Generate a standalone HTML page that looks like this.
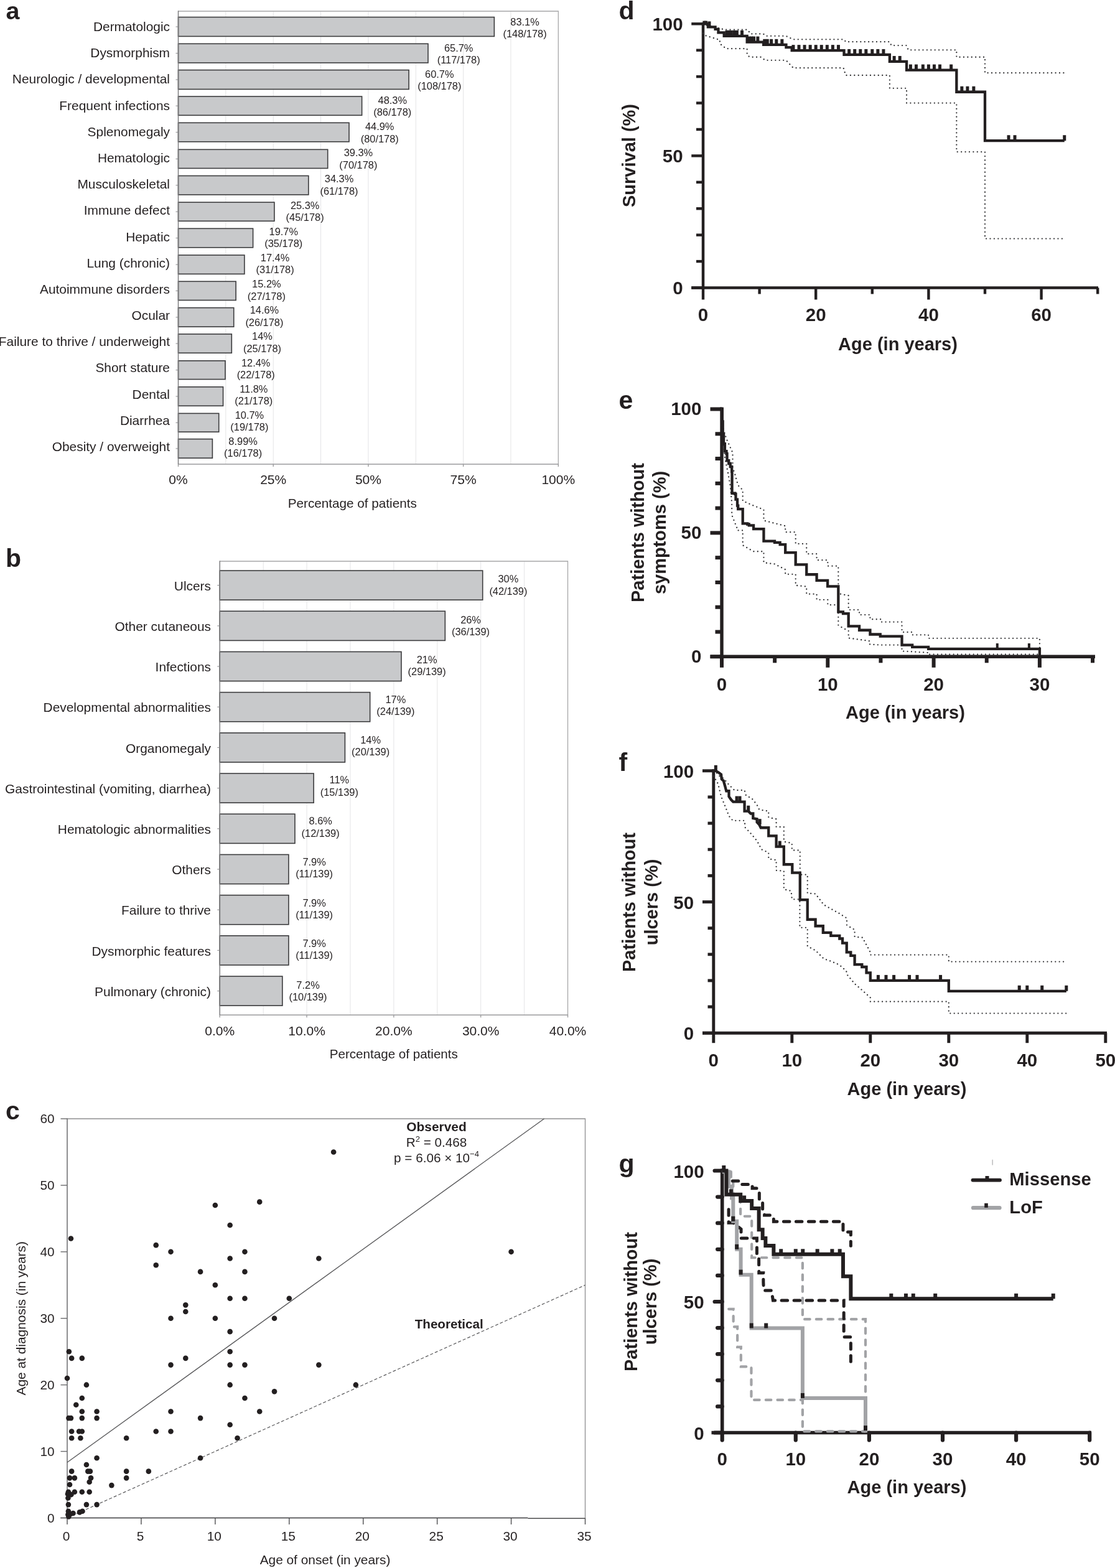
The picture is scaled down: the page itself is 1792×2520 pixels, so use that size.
<!DOCTYPE html>
<html><head><meta charset="utf-8"><title>Figure</title>
<style>html,body{margin:0;padding:0;background:#fff;}svg{display:block;}</style></head><body>
<svg width="1792" height="2520" viewBox="0 0 1792 2520" font-family="'Liberation Sans', Arial, Helvetica, sans-serif">
<rect width="1792" height="2520" fill="#fff"/>
<line x1="362.85" y1="18" x2="362.85" y2="746" stroke="#e4e4e6" stroke-width="1"/>
<line x1="439.2" y1="18" x2="439.2" y2="746" stroke="#e4e4e6" stroke-width="1"/>
<line x1="515.55" y1="18" x2="515.55" y2="746" stroke="#e4e4e6" stroke-width="1"/>
<line x1="591.9" y1="18" x2="591.9" y2="746" stroke="#e4e4e6" stroke-width="1"/>
<line x1="668.25" y1="18" x2="668.25" y2="746" stroke="#e4e4e6" stroke-width="1"/>
<line x1="744.6" y1="18" x2="744.6" y2="746" stroke="#e4e4e6" stroke-width="1"/>
<line x1="820.95" y1="18" x2="820.95" y2="746" stroke="#e4e4e6" stroke-width="1"/>
<path d="M286.5 18H897.3V746" fill="none" stroke="#a6a6a8" stroke-width="1.3"/>
<line x1="285.9" y1="746" x2="897.9" y2="746" stroke="#9a9a9c" stroke-width="1.6"/>
<line x1="286.5" y1="746" x2="286.5" y2="750" stroke="#9a9a9c" stroke-width="1.4"/>
<line x1="439.2" y1="746" x2="439.2" y2="750" stroke="#9a9a9c" stroke-width="1.4"/>
<line x1="591.9" y1="746" x2="591.9" y2="750" stroke="#9a9a9c" stroke-width="1.4"/>
<line x1="744.6" y1="746" x2="744.6" y2="750" stroke="#9a9a9c" stroke-width="1.4"/>
<line x1="897.3" y1="746" x2="897.3" y2="750" stroke="#9a9a9c" stroke-width="1.4"/>
<rect x="286.5" y="27.55" width="507.86" height="30.9" fill="#c8c9cb" stroke="#3c3c3e" stroke-width="1.6"/>
<line x1="282.5" y1="43" x2="286.5" y2="43" stroke="#9a9a9c" stroke-width="1.2"/>
<text x="273" y="50" font-size="20.9" text-anchor="end" fill="#231f20">Dermatologic</text>
<text x="843.56" y="40.5" font-size="16.4" text-anchor="middle" fill="#231f20">83.1%</text>
<text x="843.56" y="59.9" font-size="16.4" text-anchor="middle" fill="#231f20">(148/178)</text>
<rect x="286.5" y="70.3" width="401.48" height="30.65" fill="#c8c9cb" stroke="#3c3c3e" stroke-width="1.6"/>
<line x1="282.5" y1="85.62" x2="286.5" y2="85.62" stroke="#9a9a9c" stroke-width="1.2"/>
<text x="273" y="92.19" font-size="20.9" text-anchor="end" fill="#231f20">Dysmorphism</text>
<text x="737.18" y="82.66" font-size="16.4" text-anchor="middle" fill="#231f20">65.7%</text>
<text x="737.18" y="102.06" font-size="16.4" text-anchor="middle" fill="#231f20">(117/178)</text>
<rect x="286.5" y="112.55" width="370.6" height="30.9" fill="#c8c9cb" stroke="#3c3c3e" stroke-width="1.6"/>
<line x1="282.5" y1="128" x2="286.5" y2="128" stroke="#9a9a9c" stroke-width="1.2"/>
<text x="273" y="134.38" font-size="20.9" text-anchor="end" fill="#231f20">Neurologic / developmental</text>
<text x="706.3" y="124.82" font-size="16.4" text-anchor="middle" fill="#231f20">60.7%</text>
<text x="706.3" y="144.22" font-size="16.4" text-anchor="middle" fill="#231f20">(108/178)</text>
<rect x="286.5" y="155" width="295.11" height="30.3" fill="#c8c9cb" stroke="#3c3c3e" stroke-width="1.6"/>
<line x1="282.5" y1="170.15" x2="286.5" y2="170.15" stroke="#9a9a9c" stroke-width="1.2"/>
<text x="273" y="176.57" font-size="20.9" text-anchor="end" fill="#231f20">Frequent infections</text>
<text x="630.81" y="166.98" font-size="16.4" text-anchor="middle" fill="#231f20">48.3%</text>
<text x="630.81" y="186.38" font-size="16.4" text-anchor="middle" fill="#231f20">(86/178)</text>
<rect x="286.5" y="197.3" width="274.52" height="30.5" fill="#c8c9cb" stroke="#3c3c3e" stroke-width="1.6"/>
<line x1="282.5" y1="212.55" x2="286.5" y2="212.55" stroke="#9a9a9c" stroke-width="1.2"/>
<text x="273" y="218.76" font-size="20.9" text-anchor="end" fill="#231f20">Splenomegaly</text>
<text x="610.22" y="209.14" font-size="16.4" text-anchor="middle" fill="#231f20">44.9%</text>
<text x="610.22" y="228.54" font-size="16.4" text-anchor="middle" fill="#231f20">(80/178)</text>
<rect x="286.5" y="240.3" width="240.2" height="30.2" fill="#c8c9cb" stroke="#3c3c3e" stroke-width="1.6"/>
<line x1="282.5" y1="255.4" x2="286.5" y2="255.4" stroke="#9a9a9c" stroke-width="1.2"/>
<text x="273" y="260.95" font-size="20.9" text-anchor="end" fill="#231f20">Hematologic</text>
<text x="575.9" y="251.3" font-size="16.4" text-anchor="middle" fill="#231f20">39.3%</text>
<text x="575.9" y="270.7" font-size="16.4" text-anchor="middle" fill="#231f20">(70/178)</text>
<rect x="286.5" y="282.5" width="209.32" height="30.5" fill="#c8c9cb" stroke="#3c3c3e" stroke-width="1.6"/>
<line x1="282.5" y1="297.75" x2="286.5" y2="297.75" stroke="#9a9a9c" stroke-width="1.2"/>
<text x="273" y="303.14" font-size="20.9" text-anchor="end" fill="#231f20">Musculoskeletal</text>
<text x="545.02" y="293.46" font-size="16.4" text-anchor="middle" fill="#231f20">34.3%</text>
<text x="545.02" y="312.86" font-size="16.4" text-anchor="middle" fill="#231f20">(61/178)</text>
<rect x="286.5" y="325.1" width="154.42" height="30.2" fill="#c8c9cb" stroke="#3c3c3e" stroke-width="1.6"/>
<line x1="282.5" y1="340.2" x2="286.5" y2="340.2" stroke="#9a9a9c" stroke-width="1.2"/>
<text x="273" y="345.33" font-size="20.9" text-anchor="end" fill="#231f20">Immune defect</text>
<text x="490.12" y="335.62" font-size="16.4" text-anchor="middle" fill="#231f20">25.3%</text>
<text x="490.12" y="355.02" font-size="16.4" text-anchor="middle" fill="#231f20">(45/178)</text>
<rect x="286.5" y="367.3" width="120.1" height="30.5" fill="#c8c9cb" stroke="#3c3c3e" stroke-width="1.6"/>
<line x1="282.5" y1="382.55" x2="286.5" y2="382.55" stroke="#9a9a9c" stroke-width="1.2"/>
<text x="273" y="387.52" font-size="20.9" text-anchor="end" fill="#231f20">Hepatic</text>
<text x="455.8" y="377.78" font-size="16.4" text-anchor="middle" fill="#231f20">19.7%</text>
<text x="455.8" y="397.18" font-size="16.4" text-anchor="middle" fill="#231f20">(35/178)</text>
<rect x="286.5" y="410" width="106.38" height="30.4" fill="#c8c9cb" stroke="#3c3c3e" stroke-width="1.6"/>
<line x1="282.5" y1="425.2" x2="286.5" y2="425.2" stroke="#9a9a9c" stroke-width="1.2"/>
<text x="273" y="429.71" font-size="20.9" text-anchor="end" fill="#231f20">Lung (chronic)</text>
<text x="442.08" y="419.94" font-size="16.4" text-anchor="middle" fill="#231f20">17.4%</text>
<text x="442.08" y="439.34" font-size="16.4" text-anchor="middle" fill="#231f20">(31/178)</text>
<rect x="286.5" y="452.3" width="92.65" height="30.2" fill="#c8c9cb" stroke="#3c3c3e" stroke-width="1.6"/>
<line x1="282.5" y1="467.4" x2="286.5" y2="467.4" stroke="#9a9a9c" stroke-width="1.2"/>
<text x="273" y="471.9" font-size="20.9" text-anchor="end" fill="#231f20">Autoimmune disorders</text>
<text x="428.35" y="462.1" font-size="16.4" text-anchor="middle" fill="#231f20">15.2%</text>
<text x="428.35" y="481.5" font-size="16.4" text-anchor="middle" fill="#231f20">(27/178)</text>
<rect x="286.5" y="494.6" width="89.22" height="30.6" fill="#c8c9cb" stroke="#3c3c3e" stroke-width="1.6"/>
<line x1="282.5" y1="509.9" x2="286.5" y2="509.9" stroke="#9a9a9c" stroke-width="1.2"/>
<text x="273" y="514.09" font-size="20.9" text-anchor="end" fill="#231f20">Ocular</text>
<text x="424.92" y="504.26" font-size="16.4" text-anchor="middle" fill="#231f20">14.6%</text>
<text x="424.92" y="523.66" font-size="16.4" text-anchor="middle" fill="#231f20">(26/178)</text>
<rect x="286.5" y="536.9" width="85.79" height="30.4" fill="#c8c9cb" stroke="#3c3c3e" stroke-width="1.6"/>
<line x1="282.5" y1="552.1" x2="286.5" y2="552.1" stroke="#9a9a9c" stroke-width="1.2"/>
<text x="273" y="556.28" font-size="20.9" text-anchor="end" fill="#231f20">Failure to thrive / underweight</text>
<text x="421.49" y="546.42" font-size="16.4" text-anchor="middle" fill="#231f20">14%</text>
<text x="421.49" y="565.82" font-size="16.4" text-anchor="middle" fill="#231f20">(25/178)</text>
<rect x="286.5" y="579.8" width="75.49" height="29.8" fill="#c8c9cb" stroke="#3c3c3e" stroke-width="1.6"/>
<line x1="282.5" y1="594.7" x2="286.5" y2="594.7" stroke="#9a9a9c" stroke-width="1.2"/>
<text x="273" y="598.47" font-size="20.9" text-anchor="end" fill="#231f20">Short stature</text>
<text x="411.19" y="588.58" font-size="16.4" text-anchor="middle" fill="#231f20">12.4%</text>
<text x="411.19" y="607.98" font-size="16.4" text-anchor="middle" fill="#231f20">(22/178)</text>
<rect x="286.5" y="621.8" width="72.06" height="30.5" fill="#c8c9cb" stroke="#3c3c3e" stroke-width="1.6"/>
<line x1="282.5" y1="637.05" x2="286.5" y2="637.05" stroke="#9a9a9c" stroke-width="1.2"/>
<text x="273" y="640.66" font-size="20.9" text-anchor="end" fill="#231f20">Dental</text>
<text x="407.76" y="630.74" font-size="16.4" text-anchor="middle" fill="#231f20">11.8%</text>
<text x="407.76" y="650.14" font-size="16.4" text-anchor="middle" fill="#231f20">(21/178)</text>
<rect x="286.5" y="664.4" width="65.2" height="29.8" fill="#c8c9cb" stroke="#3c3c3e" stroke-width="1.6"/>
<line x1="282.5" y1="679.3" x2="286.5" y2="679.3" stroke="#9a9a9c" stroke-width="1.2"/>
<text x="273" y="682.85" font-size="20.9" text-anchor="end" fill="#231f20">Diarrhea</text>
<text x="400.9" y="672.9" font-size="16.4" text-anchor="middle" fill="#231f20">10.7%</text>
<text x="400.9" y="692.3" font-size="16.4" text-anchor="middle" fill="#231f20">(19/178)</text>
<rect x="286.5" y="705.6" width="54.9" height="30.6" fill="#c8c9cb" stroke="#3c3c3e" stroke-width="1.6"/>
<line x1="282.5" y1="720.9" x2="286.5" y2="720.9" stroke="#9a9a9c" stroke-width="1.2"/>
<text x="273" y="725.04" font-size="20.9" text-anchor="end" fill="#231f20">Obesity / overweight</text>
<text x="390.6" y="715.06" font-size="16.4" text-anchor="middle" fill="#231f20">8.99%</text>
<text x="390.6" y="734.46" font-size="16.4" text-anchor="middle" fill="#231f20">(16/178)</text>
<line x1="286.5" y1="17.35" x2="286.5" y2="746" stroke="#78787a" stroke-width="1.4"/>
<text x="286.5" y="777.6" font-size="21" text-anchor="middle" fill="#231f20">0%</text>
<text x="439.2" y="777.6" font-size="21" text-anchor="middle" fill="#231f20">25%</text>
<text x="591.9" y="777.6" font-size="21" text-anchor="middle" fill="#231f20">50%</text>
<text x="744.6" y="777.6" font-size="21" text-anchor="middle" fill="#231f20">75%</text>
<text x="897.3" y="777.6" font-size="21" text-anchor="middle" fill="#231f20">100%</text>
<text x="566.3" y="815.6" font-size="20.7" text-anchor="middle" fill="#231f20">Percentage of patients</text>
<text x="9.5" y="30.5" font-size="39.5" text-anchor="start" font-weight="bold" fill="#231f20">a</text>
<line x1="423.16" y1="902" x2="423.16" y2="1631.25" stroke="#e4e4e6" stroke-width="1"/>
<line x1="493.06" y1="902" x2="493.06" y2="1631.25" stroke="#e4e4e6" stroke-width="1"/>
<line x1="562.97" y1="902" x2="562.97" y2="1631.25" stroke="#e4e4e6" stroke-width="1"/>
<line x1="632.88" y1="902" x2="632.88" y2="1631.25" stroke="#e4e4e6" stroke-width="1"/>
<line x1="702.78" y1="902" x2="702.78" y2="1631.25" stroke="#e4e4e6" stroke-width="1"/>
<line x1="772.69" y1="902" x2="772.69" y2="1631.25" stroke="#e4e4e6" stroke-width="1"/>
<line x1="842.59" y1="902" x2="842.59" y2="1631.25" stroke="#e4e4e6" stroke-width="1"/>
<path d="M353.25 902H912.5V1631.25" fill="none" stroke="#a6a6a8" stroke-width="1.3"/>
<line x1="352.65" y1="1631.25" x2="913.1" y2="1631.25" stroke="#9a9a9c" stroke-width="1.6"/>
<line x1="353.25" y1="1631.25" x2="353.25" y2="1635.25" stroke="#9a9a9c" stroke-width="1.4"/>
<line x1="493.06" y1="1631.25" x2="493.06" y2="1635.25" stroke="#9a9a9c" stroke-width="1.4"/>
<line x1="632.88" y1="1631.25" x2="632.88" y2="1635.25" stroke="#9a9a9c" stroke-width="1.4"/>
<line x1="772.69" y1="1631.25" x2="772.69" y2="1635.25" stroke="#9a9a9c" stroke-width="1.4"/>
<line x1="912.5" y1="1631.25" x2="912.5" y2="1635.25" stroke="#9a9a9c" stroke-width="1.4"/>
<rect x="353.25" y="917.05" width="422.46" height="47.15" fill="#c8c9cb" stroke="#3c3c3e" stroke-width="1.6"/>
<line x1="349.25" y1="940.62" x2="353.25" y2="940.62" stroke="#9a9a9c" stroke-width="1.2"/>
<text x="339" y="948.75" font-size="20.9" text-anchor="end" fill="#231f20">Ulcers</text>
<text x="816.91" y="936.25" font-size="16.4" text-anchor="middle" fill="#231f20">30%</text>
<text x="816.91" y="955.65" font-size="16.4" text-anchor="middle" fill="#231f20">(42/139)</text>
<rect x="353.25" y="982.25" width="362.1" height="47.15" fill="#c8c9cb" stroke="#3c3c3e" stroke-width="1.6"/>
<line x1="349.25" y1="1005.83" x2="353.25" y2="1005.83" stroke="#9a9a9c" stroke-width="1.2"/>
<text x="339" y="1013.95" font-size="20.9" text-anchor="end" fill="#231f20">Other cutaneous</text>
<text x="756.55" y="1001.75" font-size="16.4" text-anchor="middle" fill="#231f20">26%</text>
<text x="756.55" y="1021.15" font-size="16.4" text-anchor="middle" fill="#231f20">(36/139)</text>
<rect x="353.25" y="1047.45" width="291.7" height="47.15" fill="#c8c9cb" stroke="#3c3c3e" stroke-width="1.6"/>
<line x1="349.25" y1="1071.03" x2="353.25" y2="1071.03" stroke="#9a9a9c" stroke-width="1.2"/>
<text x="339" y="1079.15" font-size="20.9" text-anchor="end" fill="#231f20">Infections</text>
<text x="686.15" y="1065.5" font-size="16.4" text-anchor="middle" fill="#231f20">21%</text>
<text x="686.15" y="1084.9" font-size="16.4" text-anchor="middle" fill="#231f20">(29/139)</text>
<rect x="353.25" y="1112.65" width="241.4" height="47.15" fill="#c8c9cb" stroke="#3c3c3e" stroke-width="1.6"/>
<line x1="349.25" y1="1136.22" x2="353.25" y2="1136.22" stroke="#9a9a9c" stroke-width="1.2"/>
<text x="339" y="1144.35" font-size="20.9" text-anchor="end" fill="#231f20">Developmental abnormalities</text>
<text x="635.85" y="1129.6" font-size="16.4" text-anchor="middle" fill="#231f20">17%</text>
<text x="635.85" y="1149" font-size="16.4" text-anchor="middle" fill="#231f20">(24/139)</text>
<rect x="353.25" y="1177.85" width="201.17" height="47.15" fill="#c8c9cb" stroke="#3c3c3e" stroke-width="1.6"/>
<line x1="349.25" y1="1201.42" x2="353.25" y2="1201.42" stroke="#9a9a9c" stroke-width="1.2"/>
<text x="339" y="1209.55" font-size="20.9" text-anchor="end" fill="#231f20">Organomegaly</text>
<text x="595.62" y="1194.5" font-size="16.4" text-anchor="middle" fill="#231f20">14%</text>
<text x="595.62" y="1213.9" font-size="16.4" text-anchor="middle" fill="#231f20">(20/139)</text>
<rect x="353.25" y="1243.05" width="150.88" height="47.15" fill="#c8c9cb" stroke="#3c3c3e" stroke-width="1.6"/>
<line x1="349.25" y1="1266.62" x2="353.25" y2="1266.62" stroke="#9a9a9c" stroke-width="1.2"/>
<text x="339" y="1274.75" font-size="20.9" text-anchor="end" fill="#231f20">Gastrointestinal (vomiting, diarrhea)</text>
<text x="545.33" y="1259.4" font-size="16.4" text-anchor="middle" fill="#231f20">11%</text>
<text x="545.33" y="1278.8" font-size="16.4" text-anchor="middle" fill="#231f20">(15/139)</text>
<rect x="353.25" y="1308.25" width="120.7" height="47.15" fill="#c8c9cb" stroke="#3c3c3e" stroke-width="1.6"/>
<line x1="349.25" y1="1331.83" x2="353.25" y2="1331.83" stroke="#9a9a9c" stroke-width="1.2"/>
<text x="339" y="1339.95" font-size="20.9" text-anchor="end" fill="#231f20">Hematologic abnormalities</text>
<text x="515.15" y="1325.1" font-size="16.4" text-anchor="middle" fill="#231f20">8.6%</text>
<text x="515.15" y="1344.5" font-size="16.4" text-anchor="middle" fill="#231f20">(12/139)</text>
<rect x="353.25" y="1373.45" width="110.64" height="47.15" fill="#c8c9cb" stroke="#3c3c3e" stroke-width="1.6"/>
<line x1="349.25" y1="1397.03" x2="353.25" y2="1397.03" stroke="#9a9a9c" stroke-width="1.2"/>
<text x="339" y="1405.15" font-size="20.9" text-anchor="end" fill="#231f20">Others</text>
<text x="505.09" y="1390.7" font-size="16.4" text-anchor="middle" fill="#231f20">7.9%</text>
<text x="505.09" y="1410.1" font-size="16.4" text-anchor="middle" fill="#231f20">(11/139)</text>
<rect x="353.25" y="1438.65" width="110.64" height="47.15" fill="#c8c9cb" stroke="#3c3c3e" stroke-width="1.6"/>
<line x1="349.25" y1="1462.22" x2="353.25" y2="1462.22" stroke="#9a9a9c" stroke-width="1.2"/>
<text x="339" y="1470.35" font-size="20.9" text-anchor="end" fill="#231f20">Failure to thrive</text>
<text x="505.09" y="1456.6" font-size="16.4" text-anchor="middle" fill="#231f20">7.9%</text>
<text x="505.09" y="1476" font-size="16.4" text-anchor="middle" fill="#231f20">(11/139)</text>
<rect x="353.25" y="1503.85" width="110.64" height="47.15" fill="#c8c9cb" stroke="#3c3c3e" stroke-width="1.6"/>
<line x1="349.25" y1="1527.43" x2="353.25" y2="1527.43" stroke="#9a9a9c" stroke-width="1.2"/>
<text x="339" y="1535.55" font-size="20.9" text-anchor="end" fill="#231f20">Dysmorphic features</text>
<text x="505.09" y="1521.9" font-size="16.4" text-anchor="middle" fill="#231f20">7.9%</text>
<text x="505.09" y="1541.3" font-size="16.4" text-anchor="middle" fill="#231f20">(11/139)</text>
<rect x="353.25" y="1569.05" width="100.58" height="47.15" fill="#c8c9cb" stroke="#3c3c3e" stroke-width="1.6"/>
<line x1="349.25" y1="1592.62" x2="353.25" y2="1592.62" stroke="#9a9a9c" stroke-width="1.2"/>
<text x="339" y="1600.75" font-size="20.9" text-anchor="end" fill="#231f20">Pulmonary (chronic)</text>
<text x="495.03" y="1588.75" font-size="16.4" text-anchor="middle" fill="#231f20">7.2%</text>
<text x="495.03" y="1608.15" font-size="16.4" text-anchor="middle" fill="#231f20">(10/139)</text>
<line x1="353.25" y1="901.35" x2="353.25" y2="1631.25" stroke="#78787a" stroke-width="1.4"/>
<text x="353.25" y="1663.8" font-size="21" text-anchor="middle" fill="#231f20">0.0%</text>
<text x="493.06" y="1663.8" font-size="21" text-anchor="middle" fill="#231f20">10.0%</text>
<text x="632.88" y="1663.8" font-size="21" text-anchor="middle" fill="#231f20">20.0%</text>
<text x="772.69" y="1663.8" font-size="21" text-anchor="middle" fill="#231f20">30.0%</text>
<text x="912.5" y="1663.8" font-size="21" text-anchor="middle" fill="#231f20">40.0%</text>
<text x="632.8" y="1701.3" font-size="20.6" text-anchor="middle" fill="#231f20">Percentage of patients</text>
<text x="9" y="910.7" font-size="41" text-anchor="start" font-weight="bold" fill="#231f20">b</text>
<path d="M108 1798H940.5V2439.5" fill="none" stroke="#8e8e90" stroke-width="1.3"/>
<line x1="108" y1="1797.4" x2="108" y2="2439.5" stroke="#6a6a6c" stroke-width="1.5"/>
<line x1="97.3" y1="2439.5" x2="848.4" y2="2439.5" stroke="#3a3a3c" stroke-width="1.6"/>
<line x1="848.4" y1="2440.3" x2="940.5" y2="2440.3" stroke="#4a4a4c" stroke-width="1.6"/>
<line x1="97.5" y1="2439.5" x2="108" y2="2439.5" stroke="#6a6a6c" stroke-width="1.4"/>
<text x="87.6" y="2446.5" font-size="20.8" text-anchor="end" fill="#231f20">0</text>
<line x1="97.5" y1="2332.58" x2="108" y2="2332.58" stroke="#6a6a6c" stroke-width="1.4"/>
<text x="87.6" y="2339.58" font-size="20.8" text-anchor="end" fill="#231f20">10</text>
<line x1="97.5" y1="2225.67" x2="108" y2="2225.67" stroke="#6a6a6c" stroke-width="1.4"/>
<text x="87.6" y="2232.67" font-size="20.8" text-anchor="end" fill="#231f20">20</text>
<line x1="97.5" y1="2118.75" x2="108" y2="2118.75" stroke="#6a6a6c" stroke-width="1.4"/>
<text x="87.6" y="2125.75" font-size="20.8" text-anchor="end" fill="#231f20">30</text>
<line x1="97.5" y1="2011.83" x2="108" y2="2011.83" stroke="#6a6a6c" stroke-width="1.4"/>
<text x="87.6" y="2018.83" font-size="20.8" text-anchor="end" fill="#231f20">40</text>
<line x1="97.5" y1="1904.92" x2="108" y2="1904.92" stroke="#6a6a6c" stroke-width="1.4"/>
<text x="87.6" y="1911.92" font-size="20.8" text-anchor="end" fill="#231f20">50</text>
<line x1="97.5" y1="1798" x2="108" y2="1798" stroke="#6a6a6c" stroke-width="1.4"/>
<text x="87.6" y="1805" font-size="20.8" text-anchor="end" fill="#231f20">60</text>
<line x1="108" y1="2439.5" x2="108" y2="2450" stroke="#505052" stroke-width="1.4"/>
<text x="106.5" y="2475.6" font-size="20.8" text-anchor="middle" fill="#231f20">0</text>
<line x1="226.93" y1="2439.5" x2="226.93" y2="2450" stroke="#505052" stroke-width="1.4"/>
<text x="225.43" y="2475.6" font-size="20.8" text-anchor="middle" fill="#231f20">5</text>
<line x1="345.86" y1="2439.5" x2="345.86" y2="2450" stroke="#505052" stroke-width="1.4"/>
<text x="344.36" y="2475.6" font-size="20.8" text-anchor="middle" fill="#231f20">10</text>
<line x1="464.79" y1="2439.5" x2="464.79" y2="2450" stroke="#505052" stroke-width="1.4"/>
<text x="463.29" y="2475.6" font-size="20.8" text-anchor="middle" fill="#231f20">15</text>
<line x1="583.71" y1="2439.5" x2="583.71" y2="2450" stroke="#505052" stroke-width="1.4"/>
<text x="582.21" y="2475.6" font-size="20.8" text-anchor="middle" fill="#231f20">20</text>
<line x1="702.64" y1="2439.5" x2="702.64" y2="2450" stroke="#505052" stroke-width="1.4"/>
<text x="701.14" y="2475.6" font-size="20.8" text-anchor="middle" fill="#231f20">25</text>
<line x1="821.57" y1="2439.5" x2="821.57" y2="2450" stroke="#505052" stroke-width="1.4"/>
<text x="820.07" y="2475.6" font-size="20.8" text-anchor="middle" fill="#231f20">30</text>
<line x1="940.5" y1="2439.5" x2="940.5" y2="2450" stroke="#505052" stroke-width="1.4"/>
<text x="939" y="2475.6" font-size="20.8" text-anchor="middle" fill="#231f20">35</text>
<line x1="108" y1="2439.5" x2="940.5" y2="2065.29" stroke="#59595b" stroke-width="1.2" stroke-dasharray="5 3.2"/>
<line x1="108" y1="2350.3" x2="874.5" y2="1798" stroke="#555557" stroke-width="1.3"/>
<circle cx="536.14" cy="1851.46" r="4.3" fill="#231f20"/>
<circle cx="345.86" cy="1936.99" r="4.3" fill="#231f20"/>
<circle cx="417.21" cy="1931.65" r="4.3" fill="#231f20"/>
<circle cx="369.64" cy="1969.07" r="4.3" fill="#231f20"/>
<circle cx="113.95" cy="1990.45" r="4.3" fill="#231f20"/>
<circle cx="250.71" cy="2001.14" r="4.3" fill="#231f20"/>
<circle cx="274.5" cy="2011.83" r="4.3" fill="#231f20"/>
<circle cx="393.43" cy="2011.83" r="4.3" fill="#231f20"/>
<circle cx="821.57" cy="2011.83" r="4.3" fill="#231f20"/>
<circle cx="369.64" cy="2022.53" r="4.3" fill="#231f20"/>
<circle cx="512.36" cy="2022.53" r="4.3" fill="#231f20"/>
<circle cx="250.71" cy="2033.22" r="4.3" fill="#231f20"/>
<circle cx="322.07" cy="2043.91" r="4.3" fill="#231f20"/>
<circle cx="393.43" cy="2043.91" r="4.3" fill="#231f20"/>
<circle cx="345.86" cy="2065.29" r="4.3" fill="#231f20"/>
<circle cx="369.64" cy="2086.68" r="4.3" fill="#231f20"/>
<circle cx="393.43" cy="2086.68" r="4.3" fill="#231f20"/>
<circle cx="464.79" cy="2086.68" r="4.3" fill="#231f20"/>
<circle cx="298.29" cy="2097.37" r="4.3" fill="#231f20"/>
<circle cx="298.29" cy="2108.06" r="4.3" fill="#231f20"/>
<circle cx="274.5" cy="2118.75" r="4.3" fill="#231f20"/>
<circle cx="345.86" cy="2118.75" r="4.3" fill="#231f20"/>
<circle cx="441" cy="2118.75" r="4.3" fill="#231f20"/>
<circle cx="369.64" cy="2140.13" r="4.3" fill="#231f20"/>
<circle cx="110.85" cy="2172.21" r="4.3" fill="#231f20"/>
<circle cx="369.64" cy="2172.21" r="4.3" fill="#231f20"/>
<circle cx="115.14" cy="2182.9" r="4.3" fill="#231f20"/>
<circle cx="131.79" cy="2182.9" r="4.3" fill="#231f20"/>
<circle cx="298.29" cy="2182.9" r="4.3" fill="#231f20"/>
<circle cx="274.5" cy="2193.59" r="4.3" fill="#231f20"/>
<circle cx="369.64" cy="2193.59" r="4.3" fill="#231f20"/>
<circle cx="393.43" cy="2193.59" r="4.3" fill="#231f20"/>
<circle cx="512.36" cy="2193.59" r="4.3" fill="#231f20"/>
<circle cx="108" cy="2214.97" r="4.3" fill="#231f20"/>
<circle cx="138.92" cy="2225.67" r="4.3" fill="#231f20"/>
<circle cx="369.64" cy="2225.67" r="4.3" fill="#231f20"/>
<circle cx="571.82" cy="2225.67" r="4.3" fill="#231f20"/>
<circle cx="441" cy="2236.36" r="4.3" fill="#231f20"/>
<circle cx="131.79" cy="2247.05" r="4.3" fill="#231f20"/>
<circle cx="393.43" cy="2247.05" r="4.3" fill="#231f20"/>
<circle cx="122.27" cy="2257.74" r="4.3" fill="#231f20"/>
<circle cx="131.79" cy="2268.43" r="4.3" fill="#231f20"/>
<circle cx="155.57" cy="2268.43" r="4.3" fill="#231f20"/>
<circle cx="274.5" cy="2268.43" r="4.3" fill="#231f20"/>
<circle cx="417.21" cy="2268.43" r="4.3" fill="#231f20"/>
<circle cx="110.38" cy="2279.12" r="4.3" fill="#231f20"/>
<circle cx="113.95" cy="2279.12" r="4.3" fill="#231f20"/>
<circle cx="131.79" cy="2279.12" r="4.3" fill="#231f20"/>
<circle cx="155.57" cy="2279.12" r="4.3" fill="#231f20"/>
<circle cx="322.07" cy="2279.12" r="4.3" fill="#231f20"/>
<circle cx="369.64" cy="2289.82" r="4.3" fill="#231f20"/>
<circle cx="115.14" cy="2300.51" r="4.3" fill="#231f20"/>
<circle cx="127.03" cy="2300.51" r="4.3" fill="#231f20"/>
<circle cx="131.79" cy="2300.51" r="4.3" fill="#231f20"/>
<circle cx="250.71" cy="2300.51" r="4.3" fill="#231f20"/>
<circle cx="274.5" cy="2300.51" r="4.3" fill="#231f20"/>
<circle cx="115.14" cy="2311.2" r="4.3" fill="#231f20"/>
<circle cx="129.41" cy="2311.2" r="4.3" fill="#231f20"/>
<circle cx="203.14" cy="2311.2" r="4.3" fill="#231f20"/>
<circle cx="381.54" cy="2311.2" r="4.3" fill="#231f20"/>
<circle cx="155.57" cy="2343.28" r="4.3" fill="#231f20"/>
<circle cx="322.07" cy="2343.28" r="4.3" fill="#231f20"/>
<circle cx="138.92" cy="2353.97" r="4.3" fill="#231f20"/>
<circle cx="115.14" cy="2364.66" r="4.3" fill="#231f20"/>
<circle cx="141.3" cy="2364.66" r="4.3" fill="#231f20"/>
<circle cx="144.87" cy="2364.66" r="4.3" fill="#231f20"/>
<circle cx="203.14" cy="2364.66" r="4.3" fill="#231f20"/>
<circle cx="238.82" cy="2364.66" r="4.3" fill="#231f20"/>
<circle cx="112.04" cy="2375.35" r="4.3" fill="#231f20"/>
<circle cx="119.89" cy="2375.35" r="4.3" fill="#231f20"/>
<circle cx="146.06" cy="2375.35" r="4.3" fill="#231f20"/>
<circle cx="203.14" cy="2375.35" r="4.3" fill="#231f20"/>
<circle cx="143.68" cy="2381.76" r="4.3" fill="#231f20"/>
<circle cx="112.04" cy="2386.04" r="4.3" fill="#231f20"/>
<circle cx="179.36" cy="2387.11" r="4.3" fill="#231f20"/>
<circle cx="109.9" cy="2397.8" r="4.3" fill="#231f20"/>
<circle cx="119.89" cy="2397.8" r="4.3" fill="#231f20"/>
<circle cx="131.79" cy="2397.8" r="4.3" fill="#231f20"/>
<circle cx="143.68" cy="2397.8" r="4.3" fill="#231f20"/>
<circle cx="114.42" cy="2402.08" r="4.3" fill="#231f20"/>
<circle cx="109.43" cy="2407.43" r="4.3" fill="#231f20"/>
<circle cx="109.9" cy="2418.12" r="4.3" fill="#231f20"/>
<circle cx="138.92" cy="2418.12" r="4.3" fill="#231f20"/>
<circle cx="155.57" cy="2418.12" r="4.3" fill="#231f20"/>
<circle cx="109.9" cy="2428.81" r="4.3" fill="#231f20"/>
<circle cx="117.51" cy="2432.02" r="4.3" fill="#231f20"/>
<circle cx="127.98" cy="2430.41" r="4.3" fill="#231f20"/>
<circle cx="132.5" cy="2428.81" r="4.3" fill="#231f20"/>
<circle cx="109.43" cy="2434.15" r="4.3" fill="#231f20"/>
<circle cx="110.38" cy="2437.36" r="4.3" fill="#231f20"/>
<circle cx="112.76" cy="2433.09" r="4.3" fill="#231f20"/>
<circle cx="108.95" cy="2401.01" r="4.3" fill="#231f20"/>
<text x="701.5" y="1818" font-size="20.9" text-anchor="middle" font-weight="bold" fill="#231f20">Observed</text>
<text x="701.5" y="1843" font-size="20.7" text-anchor="middle" fill="#231f20">R<tspan font-size="13" dy="-8">2</tspan><tspan dy="8"> = 0.468</tspan></text>
<text x="701.5" y="1867.5" font-size="20.7" text-anchor="middle" fill="#231f20">p = 6.06 × 10<tspan font-size="13" dy="-9">−4</tspan></text>
<text x="721.7" y="2134.5" font-size="20.6" text-anchor="middle" font-weight="bold" fill="#231f20">Theoretical</text>
<text x="522.5" y="2514.3" font-size="20.85" text-anchor="middle" fill="#231f20">Age of onset (in years)</text>
<text x="41" y="2118.8" font-size="20.9" text-anchor="middle" fill="#231f20" transform="rotate(-90 41 2118.8)">Age at diagnosis (in years)</text>
<text x="9" y="1798.5" font-size="41" text-anchor="start" font-weight="bold" fill="#231f20">c</text>
<line x1="1130" y1="36.1" x2="1130" y2="464.75" stroke="#231f20" stroke-width="4.5"/>
<line x1="1111.25" y1="462.5" x2="1765" y2="462.5" stroke="#231f20" stroke-width="4.5"/>
<line x1="1111.25" y1="462.5" x2="1130" y2="462.5" stroke="#231f20" stroke-width="4.4" stroke-linecap="butt"/>
<line x1="1119" y1="420.08" x2="1130" y2="420.08" stroke="#231f20" stroke-width="4.4" stroke-linecap="butt"/>
<line x1="1119" y1="377.66" x2="1130" y2="377.66" stroke="#231f20" stroke-width="4.4" stroke-linecap="butt"/>
<line x1="1119" y1="335.24" x2="1130" y2="335.24" stroke="#231f20" stroke-width="4.4" stroke-linecap="butt"/>
<line x1="1119" y1="292.82" x2="1130" y2="292.82" stroke="#231f20" stroke-width="4.4" stroke-linecap="butt"/>
<line x1="1111.25" y1="250.4" x2="1130" y2="250.4" stroke="#231f20" stroke-width="4.4" stroke-linecap="butt"/>
<line x1="1119" y1="207.98" x2="1130" y2="207.98" stroke="#231f20" stroke-width="4.4" stroke-linecap="butt"/>
<line x1="1119" y1="165.56" x2="1130" y2="165.56" stroke="#231f20" stroke-width="4.4" stroke-linecap="butt"/>
<line x1="1119" y1="123.14" x2="1130" y2="123.14" stroke="#231f20" stroke-width="4.4" stroke-linecap="butt"/>
<line x1="1119" y1="80.72" x2="1130" y2="80.72" stroke="#231f20" stroke-width="4.4" stroke-linecap="butt"/>
<line x1="1111.25" y1="38.3" x2="1130" y2="38.3" stroke="#231f20" stroke-width="4.4" stroke-linecap="butt"/>
<line x1="1130" y1="462.5" x2="1130" y2="481.5" stroke="#231f20" stroke-width="4.4" stroke-linecap="butt"/>
<line x1="1220.6" y1="462.5" x2="1220.6" y2="472.5" stroke="#231f20" stroke-width="4.4" stroke-linecap="butt"/>
<line x1="1311.2" y1="462.5" x2="1311.2" y2="481.5" stroke="#231f20" stroke-width="4.4" stroke-linecap="butt"/>
<line x1="1401.8" y1="462.5" x2="1401.8" y2="472.5" stroke="#231f20" stroke-width="4.4" stroke-linecap="butt"/>
<line x1="1492.4" y1="462.5" x2="1492.4" y2="481.5" stroke="#231f20" stroke-width="4.4" stroke-linecap="butt"/>
<line x1="1583" y1="462.5" x2="1583" y2="472.5" stroke="#231f20" stroke-width="4.4" stroke-linecap="butt"/>
<line x1="1673.6" y1="462.5" x2="1673.6" y2="481.5" stroke="#231f20" stroke-width="4.4" stroke-linecap="butt"/>
<line x1="1764.2" y1="462.5" x2="1764.2" y2="472.5" stroke="#231f20" stroke-width="4.4" stroke-linecap="butt"/>
<text x="1097.7" y="472.7" font-size="29.5" text-anchor="end" font-weight="bold" fill="#231f20">0</text>
<text x="1097.7" y="260.6" font-size="29.5" text-anchor="end" font-weight="bold" fill="#231f20">50</text>
<text x="1097.7" y="48.5" font-size="29.5" text-anchor="end" font-weight="bold" fill="#231f20">100</text>
<text x="1130" y="516.3" font-size="29.5" text-anchor="middle" font-weight="bold" fill="#231f20">0</text>
<text x="1311.2" y="516.3" font-size="29.5" text-anchor="middle" font-weight="bold" fill="#231f20">20</text>
<text x="1492.4" y="516.3" font-size="29.5" text-anchor="middle" font-weight="bold" fill="#231f20">40</text>
<text x="1673.6" y="516.3" font-size="29.5" text-anchor="middle" font-weight="bold" fill="#231f20">60</text>
<text x="1443" y="562.5" font-size="29" text-anchor="middle" font-weight="bold" fill="#231f20">Age (in years)</text>
<text x="1021" y="250" font-size="29" text-anchor="middle" font-weight="bold" fill="#231f20" transform="rotate(-90 1021 250)">Survival (%)</text>
<text x="994.5" y="31" font-size="41" text-anchor="start" font-weight="bold" fill="#231f20">d</text>
<path d="M1130 38.3L1134.53 40.42L1143.59 42.54L1152.65 44.66L1164.43 47.63L1201.57 47.63L1206.1 54.42L1226.94 54.42L1230.57 57.81L1263.18 57.81L1274.96 63.33L1356.5 63.33L1359.22 67.15L1429.89 67.15L1432.6 73.08L1457.07 73.08L1459.78 80.3L1537.34 80.3L1537.34 91.75L1583 91.75L1583 117.2L1710.75 117.2" fill="none" stroke="#333335" stroke-width="2.3" stroke-dasharray="0.01 6.4" stroke-linejoin="miter" stroke-linecap="round"/>
<path d="M1130 53.57L1131.72 56.54L1156.91 64.18L1156.91 70.12L1167.15 78.17L1200.67 78.17L1200.67 88.36L1205.2 91.75L1223.32 91.75L1229.66 96.84L1263.18 96.84L1274.96 109.14L1355.59 109.14L1359.22 121.02L1429.89 121.02L1429.89 141.8L1457.07 141.8L1457.07 165.56L1537.34 165.56L1537.34 244.04L1583 244.04L1583 383.6L1710.75 383.6" fill="none" stroke="#333335" stroke-width="2.3" stroke-dasharray="0.01 6.4" stroke-linejoin="miter" stroke-linecap="round"/>
<path d="M1130 38.3L1137.88 38.3L1137.88 43.39L1149.57 43.39L1149.57 46.78L1154.46 46.78L1154.46 52.3L1163.7 52.3L1163.7 57.81L1200.67 57.81L1200.67 67.57L1227.12 67.57L1227.12 71.81L1263.45 71.81L1263.45 76.05L1272.69 76.05L1272.69 81.14L1356.5 81.14L1356.5 87.93L1429.89 87.93L1429.89 98.96L1457.07 98.96L1457.07 112.54L1537.34 112.54L1537.34 147.74L1583 147.74L1583 226.22L1710.75 226.22L1710.75 226.22" fill="none" stroke="#231f20" stroke-width="4.3" stroke-linejoin="miter"/>
<rect x="1129.31" y="33.6" width="5" height="4.7" fill="#231f20"/>
<rect x="1132.03" y="33.6" width="5" height="4.7" fill="#231f20"/>
<rect x="1137.47" y="34.39" width="5" height="9" fill="#231f20"/>
<rect x="1165.55" y="48.81" width="5" height="9" fill="#231f20"/>
<rect x="1169.18" y="48.81" width="5" height="9" fill="#231f20"/>
<rect x="1172.8" y="48.81" width="5" height="9" fill="#231f20"/>
<rect x="1177.33" y="48.81" width="5" height="9" fill="#231f20"/>
<rect x="1181.86" y="48.81" width="5" height="9" fill="#231f20"/>
<rect x="1190.01" y="48.81" width="5" height="9" fill="#231f20"/>
<rect x="1201.79" y="58.57" width="5" height="9" fill="#231f20"/>
<rect x="1205.42" y="58.57" width="5" height="9" fill="#231f20"/>
<rect x="1209.04" y="58.57" width="5" height="9" fill="#231f20"/>
<rect x="1215.38" y="58.57" width="5" height="9" fill="#231f20"/>
<rect x="1226.25" y="62.81" width="5" height="9" fill="#231f20"/>
<rect x="1230.78" y="62.81" width="5" height="9" fill="#231f20"/>
<rect x="1237.13" y="62.81" width="5" height="9" fill="#231f20"/>
<rect x="1245.28" y="62.81" width="5" height="9" fill="#231f20"/>
<rect x="1254.34" y="62.81" width="5" height="9" fill="#231f20"/>
<rect x="1272.46" y="72.14" width="5" height="9" fill="#231f20"/>
<rect x="1281.52" y="72.14" width="5" height="9" fill="#231f20"/>
<rect x="1290.58" y="72.14" width="5" height="9" fill="#231f20"/>
<rect x="1299.64" y="72.14" width="5" height="9" fill="#231f20"/>
<rect x="1308.7" y="72.14" width="5" height="9" fill="#231f20"/>
<rect x="1317.76" y="72.14" width="5" height="9" fill="#231f20"/>
<rect x="1326.82" y="72.14" width="5" height="9" fill="#231f20"/>
<rect x="1335.88" y="72.14" width="5" height="9" fill="#231f20"/>
<rect x="1344.94" y="72.14" width="5" height="9" fill="#231f20"/>
<rect x="1362.15" y="78.93" width="5" height="9" fill="#231f20"/>
<rect x="1371.21" y="78.93" width="5" height="9" fill="#231f20"/>
<rect x="1380.27" y="78.93" width="5" height="9" fill="#231f20"/>
<rect x="1389.33" y="78.93" width="5" height="9" fill="#231f20"/>
<rect x="1399.3" y="78.93" width="5" height="9" fill="#231f20"/>
<rect x="1408.36" y="78.93" width="5" height="9" fill="#231f20"/>
<rect x="1417.42" y="78.93" width="5" height="9" fill="#231f20"/>
<rect x="1434.63" y="89.96" width="5" height="9" fill="#231f20"/>
<rect x="1443.69" y="89.96" width="5" height="9" fill="#231f20"/>
<rect x="1460.91" y="103.54" width="5" height="9" fill="#231f20"/>
<rect x="1469.97" y="103.54" width="5" height="9" fill="#231f20"/>
<rect x="1480.84" y="103.54" width="5" height="9" fill="#231f20"/>
<rect x="1489.9" y="103.54" width="5" height="9" fill="#231f20"/>
<rect x="1498.96" y="103.54" width="5" height="9" fill="#231f20"/>
<rect x="1508.02" y="103.54" width="5" height="9" fill="#231f20"/>
<rect x="1526.14" y="103.54" width="5" height="9" fill="#231f20"/>
<rect x="1543.35" y="138.74" width="5" height="9" fill="#231f20"/>
<rect x="1552.41" y="138.74" width="5" height="9" fill="#231f20"/>
<rect x="1562.38" y="138.74" width="5" height="9" fill="#231f20"/>
<rect x="1618.55" y="217.22" width="5" height="9" fill="#231f20"/>
<rect x="1628.52" y="217.22" width="5" height="9" fill="#231f20"/>
<rect x="1708.25" y="217.22" width="5" height="9" fill="#231f20"/>
<line x1="1160" y1="654.5" x2="1160" y2="1058" stroke="#231f20" stroke-width="5.4"/>
<line x1="1141.5" y1="1055.3" x2="1760" y2="1055.3" stroke="#231f20" stroke-width="5.4"/>
<line x1="1141.5" y1="1055.3" x2="1160" y2="1055.3" stroke="#231f20" stroke-width="6" stroke-linecap="butt"/>
<line x1="1149.5" y1="1015.52" x2="1160" y2="1015.52" stroke="#231f20" stroke-width="6" stroke-linecap="butt"/>
<line x1="1149.5" y1="975.74" x2="1160" y2="975.74" stroke="#231f20" stroke-width="6" stroke-linecap="butt"/>
<line x1="1149.5" y1="935.96" x2="1160" y2="935.96" stroke="#231f20" stroke-width="6" stroke-linecap="butt"/>
<line x1="1149.5" y1="896.18" x2="1160" y2="896.18" stroke="#231f20" stroke-width="6" stroke-linecap="butt"/>
<line x1="1141.5" y1="856.4" x2="1160" y2="856.4" stroke="#231f20" stroke-width="6" stroke-linecap="butt"/>
<line x1="1149.5" y1="816.62" x2="1160" y2="816.62" stroke="#231f20" stroke-width="6" stroke-linecap="butt"/>
<line x1="1149.5" y1="776.84" x2="1160" y2="776.84" stroke="#231f20" stroke-width="6" stroke-linecap="butt"/>
<line x1="1149.5" y1="737.06" x2="1160" y2="737.06" stroke="#231f20" stroke-width="6" stroke-linecap="butt"/>
<line x1="1149.5" y1="697.28" x2="1160" y2="697.28" stroke="#231f20" stroke-width="6" stroke-linecap="butt"/>
<line x1="1141.5" y1="657.5" x2="1160" y2="657.5" stroke="#231f20" stroke-width="6" stroke-linecap="butt"/>
<line x1="1160" y1="1055.3" x2="1160" y2="1072.8" stroke="#231f20" stroke-width="6" stroke-linecap="butt"/>
<line x1="1245.15" y1="1055.3" x2="1245.15" y2="1065.3" stroke="#231f20" stroke-width="6" stroke-linecap="butt"/>
<line x1="1330.3" y1="1055.3" x2="1330.3" y2="1072.8" stroke="#231f20" stroke-width="6" stroke-linecap="butt"/>
<line x1="1415.45" y1="1055.3" x2="1415.45" y2="1065.3" stroke="#231f20" stroke-width="6" stroke-linecap="butt"/>
<line x1="1500.6" y1="1055.3" x2="1500.6" y2="1072.8" stroke="#231f20" stroke-width="6" stroke-linecap="butt"/>
<line x1="1585.75" y1="1055.3" x2="1585.75" y2="1065.3" stroke="#231f20" stroke-width="6" stroke-linecap="butt"/>
<line x1="1670.9" y1="1055.3" x2="1670.9" y2="1072.8" stroke="#231f20" stroke-width="6" stroke-linecap="butt"/>
<line x1="1756.05" y1="1055.3" x2="1756.05" y2="1065.3" stroke="#231f20" stroke-width="6" stroke-linecap="butt"/>
<text x="1127.4" y="1065.1" font-size="29.5" text-anchor="end" font-weight="bold" fill="#231f20">0</text>
<text x="1127.4" y="866.2" font-size="29.5" text-anchor="end" font-weight="bold" fill="#231f20">50</text>
<text x="1127.4" y="667.3" font-size="29.5" text-anchor="end" font-weight="bold" fill="#231f20">100</text>
<text x="1160" y="1109.5" font-size="29.5" text-anchor="middle" font-weight="bold" fill="#231f20">0</text>
<text x="1330.3" y="1109.5" font-size="29.5" text-anchor="middle" font-weight="bold" fill="#231f20">10</text>
<text x="1500.6" y="1109.5" font-size="29.5" text-anchor="middle" font-weight="bold" fill="#231f20">20</text>
<text x="1670.9" y="1109.5" font-size="29.5" text-anchor="middle" font-weight="bold" fill="#231f20">30</text>
<text x="1455" y="1155" font-size="29" text-anchor="middle" font-weight="bold" fill="#231f20">Age (in years)</text>
<text x="1035" y="856" font-size="29" text-anchor="middle" font-weight="bold" fill="#231f20" transform="rotate(-90 1035 856)">Patients without</text>
<text x="1070" y="856" font-size="29" text-anchor="middle" font-weight="bold" fill="#231f20" transform="rotate(-90 1070 856)">symptoms (%)</text>
<text x="994.5" y="657" font-size="41" text-anchor="start" font-weight="bold" fill="#231f20">e</text>
<path d="M1160 657.5L1162.55 690.12L1167.49 705.24L1177.54 727.51L1177.54 751.38L1181.29 762.52L1186.23 780.02L1193.72 787.58L1193.72 805.08L1211.09 812.64L1227.44 819.01L1227.44 836.51L1262.18 845.26L1262.18 855.21L1278.7 855.21L1278.7 873.9L1296.24 873.9L1296.24 890.21L1312.59 890.21L1312.59 900.16L1330.3 900.16L1330.3 909.71L1347.33 909.71L1347.33 953.86L1363.68 957.04L1363.68 980.12L1381.05 980.12L1381.05 988.07L1398.42 988.07L1398.42 995.23L1415.45 995.23L1415.45 999.61L1449.51 999.61L1449.51 1015.92L1466.54 1015.92L1466.54 1020.29L1492.09 1020.29L1492.09 1025.86L1670.9 1025.86L1670.9 1055.3" fill="none" stroke="#333335" stroke-width="2.3" stroke-dasharray="0.01 6.4" stroke-linejoin="miter" stroke-linecap="round"/>
<path d="M1160 677.39L1162.55 710.01L1164.94 735.07L1170.05 760.13L1173.62 780.02L1176.18 808.66L1176.18 827.76L1185.03 850.04L1185.03 852.42L1193.72 852.42L1193.72 876.29L1211.09 886.23L1227.44 886.23L1227.44 904.14L1245.15 906.52L1262.18 915.27L1262.18 922.83L1278.7 922.83L1278.7 940.73L1296.24 942.72L1296.24 954.66L1312.59 954.66L1312.59 963.81L1330.3 963.81L1330.3 972.16L1347.33 972.16L1347.33 1005.18L1363.68 1013.93L1363.68 1025.46L1381.39 1027.85L1398.08 1030.24L1398.08 1035.41L1415.45 1036.6L1449.51 1036.6L1449.51 1046.55L1466.54 1047.34L1492.09 1048.94L1492.09 1051.72L1670.9 1051.72" fill="none" stroke="#333335" stroke-width="2.3" stroke-dasharray="0.01 6.4" stroke-linejoin="miter" stroke-linecap="round"/>
<path d="M1160 657.5L1160.85 657.5L1160.85 677.39L1161.7 677.39L1161.7 697.28L1163.07 697.28L1163.07 713.19L1164.94 713.19L1164.94 725.13L1167.49 725.13L1167.49 729.1L1168.52 729.1L1168.52 740.24L1171.24 740.24L1171.24 745.02L1173.79 745.02L1173.79 750.19L1176.18 750.19L1176.18 757.75L1176.52 757.75L1176.52 792.75L1181.29 792.75L1181.29 793.95L1182.48 793.95L1182.48 802.7L1185.03 802.7L1185.03 812.64L1186.23 812.64L1186.23 818.21L1193.72 818.21L1193.72 841.28L1201.21 841.28L1201.21 842.48L1203.77 842.48L1203.77 844.47L1211.09 844.47L1211.09 850.04L1227.44 850.04L1227.44 869.53L1244.98 869.53L1244.98 871.91L1253.66 871.91L1253.66 875.1L1262.18 875.1L1262.18 888.22L1278.7 888.22L1278.7 907.32L1296.24 907.32L1296.24 923.23L1312.59 923.23L1312.59 932.78L1330.13 932.78L1330.13 942.32L1347.33 942.32L1347.33 983.3L1354.99 983.3L1354.99 986.08L1363.68 986.08L1363.68 1006.37L1381.05 1006.37L1381.05 1012.74L1398.42 1012.74L1398.42 1019.5L1414.77 1019.5L1414.77 1022.68L1449.51 1022.68L1449.51 1036.6L1466.2 1036.6L1466.2 1039.79L1492.09 1039.79L1492.09 1042.97L1670.9 1042.97L1670.9 1055.3" fill="none" stroke="#231f20" stroke-width="4.3" stroke-linejoin="miter"/>
<rect x="1600.78" y="1033.97" width="4" height="9" fill="#231f20"/>
<rect x="1651.87" y="1033.97" width="4" height="9" fill="#231f20"/>
<line x1="1146.8" y1="1236.35" x2="1146.8" y2="1662.65" stroke="#231f20" stroke-width="4.9"/>
<line x1="1129" y1="1660.2" x2="1779" y2="1660.2" stroke="#231f20" stroke-width="4.9"/>
<line x1="1129" y1="1660.2" x2="1146.8" y2="1660.2" stroke="#231f20" stroke-width="4.9" stroke-linecap="butt"/>
<line x1="1137.5" y1="1618.06" x2="1146.8" y2="1618.06" stroke="#231f20" stroke-width="4.9" stroke-linecap="butt"/>
<line x1="1137.5" y1="1575.92" x2="1146.8" y2="1575.92" stroke="#231f20" stroke-width="4.9" stroke-linecap="butt"/>
<line x1="1137.5" y1="1533.78" x2="1146.8" y2="1533.78" stroke="#231f20" stroke-width="4.9" stroke-linecap="butt"/>
<line x1="1137.5" y1="1491.64" x2="1146.8" y2="1491.64" stroke="#231f20" stroke-width="4.9" stroke-linecap="butt"/>
<line x1="1129" y1="1449.5" x2="1146.8" y2="1449.5" stroke="#231f20" stroke-width="4.9" stroke-linecap="butt"/>
<line x1="1137.5" y1="1407.36" x2="1146.8" y2="1407.36" stroke="#231f20" stroke-width="4.9" stroke-linecap="butt"/>
<line x1="1137.5" y1="1365.22" x2="1146.8" y2="1365.22" stroke="#231f20" stroke-width="4.9" stroke-linecap="butt"/>
<line x1="1137.5" y1="1323.08" x2="1146.8" y2="1323.08" stroke="#231f20" stroke-width="4.9" stroke-linecap="butt"/>
<line x1="1137.5" y1="1280.94" x2="1146.8" y2="1280.94" stroke="#231f20" stroke-width="4.9" stroke-linecap="butt"/>
<line x1="1129" y1="1238.8" x2="1146.8" y2="1238.8" stroke="#231f20" stroke-width="4.9" stroke-linecap="butt"/>
<line x1="1146.8" y1="1660.2" x2="1146.8" y2="1676.2" stroke="#231f20" stroke-width="4.9" stroke-linecap="butt"/>
<line x1="1272.8" y1="1660.2" x2="1272.8" y2="1676.2" stroke="#231f20" stroke-width="4.9" stroke-linecap="butt"/>
<line x1="1398.8" y1="1660.2" x2="1398.8" y2="1676.2" stroke="#231f20" stroke-width="4.9" stroke-linecap="butt"/>
<line x1="1524.8" y1="1660.2" x2="1524.8" y2="1676.2" stroke="#231f20" stroke-width="4.9" stroke-linecap="butt"/>
<line x1="1650.8" y1="1660.2" x2="1650.8" y2="1676.2" stroke="#231f20" stroke-width="4.9" stroke-linecap="butt"/>
<line x1="1776.8" y1="1660.2" x2="1776.8" y2="1676.2" stroke="#231f20" stroke-width="4.9" stroke-linecap="butt"/>
<text x="1115.2" y="1671.2" font-size="29.5" text-anchor="end" font-weight="bold" fill="#231f20">0</text>
<text x="1115.2" y="1460.5" font-size="29.5" text-anchor="end" font-weight="bold" fill="#231f20">50</text>
<text x="1115.2" y="1249.8" font-size="29.5" text-anchor="end" font-weight="bold" fill="#231f20">100</text>
<text x="1146.8" y="1713.5" font-size="29.5" text-anchor="middle" font-weight="bold" fill="#231f20">0</text>
<text x="1272.8" y="1713.5" font-size="29.5" text-anchor="middle" font-weight="bold" fill="#231f20">10</text>
<text x="1398.8" y="1713.5" font-size="29.5" text-anchor="middle" font-weight="bold" fill="#231f20">20</text>
<text x="1524.8" y="1713.5" font-size="29.5" text-anchor="middle" font-weight="bold" fill="#231f20">30</text>
<text x="1650.8" y="1713.5" font-size="29.5" text-anchor="middle" font-weight="bold" fill="#231f20">40</text>
<text x="1776.8" y="1713.5" font-size="29.5" text-anchor="middle" font-weight="bold" fill="#231f20">50</text>
<text x="1457.5" y="1760.2" font-size="29" text-anchor="middle" font-weight="bold" fill="#231f20">Age (in years)</text>
<text x="1021" y="1450" font-size="29" text-anchor="middle" font-weight="bold" fill="#231f20" transform="rotate(-90 1021 1450)">Patients without</text>
<text x="1057" y="1450" font-size="29" text-anchor="middle" font-weight="bold" fill="#231f20" transform="rotate(-90 1057 1450)">ulcers (%)</text>
<text x="994.5" y="1239" font-size="41" text-anchor="start" font-weight="bold" fill="#231f20">f</text>
<path d="M1146.8 1238.8L1150.58 1240.91L1156.5 1247.23L1162.8 1251.02L1171.5 1261.13L1180.32 1269.98L1196.57 1269.98L1199.09 1278.83L1207.78 1282.63L1210.3 1285.58L1216.6 1293.58L1220.26 1301.17L1235.25 1303.7L1235.25 1313.81L1247.6 1316.34L1247.6 1328.98L1259.82 1328.98L1259.82 1352.58L1272.8 1355.11L1272.8 1366.48L1285.78 1366.48L1285.78 1405.67L1297.75 1405.67L1297.75 1435.59L1310.6 1436.44L1324.08 1454.14L1335.3 1460.46L1349.03 1468.04L1361 1475.63L1361 1487L1373.6 1494.17L1373.6 1505.55L1386.2 1506.81L1399.05 1530.83L1399.05 1534.62L1524.8 1534.62L1524.8 1545.58L1713.8 1545.58" fill="none" stroke="#333335" stroke-width="2.3" stroke-dasharray="0.01 6.4" stroke-linejoin="miter" stroke-linecap="round"/>
<path d="M1146.8 1247.23L1154.11 1259.87L1159.02 1280.1L1166.58 1298.64L1171.5 1311.28L1177.8 1318.87L1196.57 1318.87L1197.83 1330.24L1205.26 1337.83L1216.6 1351.31L1224.04 1365.22L1235.25 1370.28L1235.25 1380.39L1247.6 1382.08L1247.6 1398.93L1259.82 1399.77L1259.82 1429.27L1271.54 1431.8L1272.8 1445.29L1285.4 1445.29L1285.4 1490.8L1297.75 1490.8L1297.75 1520.72L1310.6 1527.46L1324.08 1540.94L1335.3 1544.74L1349.03 1550.64L1360.24 1560.75L1361 1565.81L1373.6 1580.98L1385.32 1591.09L1398.8 1603.31L1398.8 1609.63L1524.8 1609.63L1524.8 1628.6L1713.8 1628.6" fill="none" stroke="#333335" stroke-width="2.3" stroke-dasharray="0.01 6.4" stroke-linejoin="miter" stroke-linecap="round"/>
<path d="M1146.8 1238.8L1150.33 1238.8L1155.24 1241.75L1159.02 1244.7L1159.78 1252.28L1162.8 1254.81L1165.32 1263.66L1167.34 1271.25L1171.5 1271.25L1171.5 1280.1L1175.28 1285.58L1178.3 1288.53L1196.57 1288.53L1196.57 1303.7L1202.74 1303.7L1206.52 1307.49L1210.3 1307.49L1210.3 1315.07L1216.6 1316.34L1216.6 1321.39L1220.26 1325.19L1222.78 1330.24L1235.25 1330.24L1235.25 1343.31L1247.6 1343.31L1247.6 1360.58L1259.82 1360.58L1259.82 1389.24L1273.3 1389.24L1273.3 1402.72L1285.78 1402.72L1285.78 1446.13L1297.75 1446.13L1297.75 1477.73L1310.6 1477.73L1310.6 1488.27L1322.82 1488.27L1322.82 1498.8L1335.3 1498.8L1335.3 1503.86L1349.28 1503.86L1349.28 1508.5L1354.07 1508.5L1354.07 1515.66L1360.75 1515.66L1360.75 1530.41L1367.3 1530.41L1367.3 1535.89L1373.6 1535.89L1373.6 1550.21L1385.32 1550.21L1385.32 1554.01L1392.5 1554.01L1392.5 1563.28L1398.8 1563.28L1398.8 1575.92L1524.8 1575.92L1524.8 1592.78L1713.8 1592.78" fill="none" stroke="#231f20" stroke-width="4.3" stroke-linejoin="miter"/>
<rect x="1147.83" y="1229.8" width="5" height="9" fill="#231f20"/>
<rect x="1181.6" y="1279.53" width="5" height="9" fill="#231f20"/>
<rect x="1186.51" y="1279.53" width="5" height="9" fill="#231f20"/>
<rect x="1200.24" y="1294.7" width="5" height="9" fill="#231f20"/>
<rect x="1218.64" y="1316.19" width="5" height="9" fill="#231f20"/>
<rect x="1250.77" y="1351.58" width="5" height="9" fill="#231f20"/>
<rect x="1408.9" y="1566.92" width="5" height="9" fill="#231f20"/>
<rect x="1421.5" y="1566.92" width="5" height="9" fill="#231f20"/>
<rect x="1434.1" y="1566.92" width="5" height="9" fill="#231f20"/>
<rect x="1459.05" y="1566.92" width="5" height="9" fill="#231f20"/>
<rect x="1471.52" y="1566.92" width="5" height="9" fill="#231f20"/>
<rect x="1509.07" y="1566.92" width="5" height="9" fill="#231f20"/>
<rect x="1635.7" y="1583.78" width="5" height="9" fill="#231f20"/>
<rect x="1648.3" y="1583.78" width="5" height="9" fill="#231f20"/>
<rect x="1672.24" y="1583.78" width="5" height="9" fill="#231f20"/>
<rect x="1711.3" y="1583.78" width="5" height="9" fill="#231f20"/>
<line x1="1160.7" y1="1878.4" x2="1160.7" y2="2305.3" stroke="#231f20" stroke-width="5.6"/>
<line x1="1143.5" y1="2302.5" x2="1754" y2="2302.5" stroke="#231f20" stroke-width="5.6"/>
<line x1="1148.6" y1="2302.5" x2="1160.7" y2="2302.5" stroke="#231f20" stroke-width="6.2" stroke-linecap="round"/>
<line x1="1153.1" y1="2260.4" x2="1160.7" y2="2260.4" stroke="#231f20" stroke-width="6.2" stroke-linecap="round"/>
<line x1="1153.1" y1="2218.3" x2="1160.7" y2="2218.3" stroke="#231f20" stroke-width="6.2" stroke-linecap="round"/>
<line x1="1153.1" y1="2176.2" x2="1160.7" y2="2176.2" stroke="#231f20" stroke-width="6.2" stroke-linecap="round"/>
<line x1="1153.1" y1="2134.1" x2="1160.7" y2="2134.1" stroke="#231f20" stroke-width="6.2" stroke-linecap="round"/>
<line x1="1148.6" y1="2092" x2="1160.7" y2="2092" stroke="#231f20" stroke-width="6.2" stroke-linecap="round"/>
<line x1="1153.1" y1="2049.9" x2="1160.7" y2="2049.9" stroke="#231f20" stroke-width="6.2" stroke-linecap="round"/>
<line x1="1153.1" y1="2007.8" x2="1160.7" y2="2007.8" stroke="#231f20" stroke-width="6.2" stroke-linecap="round"/>
<line x1="1153.1" y1="1965.7" x2="1160.7" y2="1965.7" stroke="#231f20" stroke-width="6.2" stroke-linecap="round"/>
<line x1="1153.1" y1="1923.6" x2="1160.7" y2="1923.6" stroke="#231f20" stroke-width="6.2" stroke-linecap="round"/>
<line x1="1148.6" y1="1881.5" x2="1160.7" y2="1881.5" stroke="#231f20" stroke-width="6.2" stroke-linecap="round"/>
<line x1="1160.7" y1="2302.5" x2="1160.7" y2="2314.4" stroke="#231f20" stroke-width="6.2" stroke-linecap="round"/>
<line x1="1278.8" y1="2302.5" x2="1278.8" y2="2314.4" stroke="#231f20" stroke-width="6.2" stroke-linecap="round"/>
<line x1="1396.9" y1="2302.5" x2="1396.9" y2="2314.4" stroke="#231f20" stroke-width="6.2" stroke-linecap="round"/>
<line x1="1515" y1="2302.5" x2="1515" y2="2314.4" stroke="#231f20" stroke-width="6.2" stroke-linecap="round"/>
<line x1="1633.1" y1="2302.5" x2="1633.1" y2="2314.4" stroke="#231f20" stroke-width="6.2" stroke-linecap="round"/>
<line x1="1751.2" y1="2302.5" x2="1751.2" y2="2314.4" stroke="#231f20" stroke-width="6.2" stroke-linecap="round"/>
<text x="1131.7" y="2313.7" font-size="29.5" text-anchor="end" font-weight="bold" fill="#231f20">0</text>
<text x="1131.7" y="2103.2" font-size="29.5" text-anchor="end" font-weight="bold" fill="#231f20">50</text>
<text x="1131.7" y="1892.7" font-size="29.5" text-anchor="end" font-weight="bold" fill="#231f20">100</text>
<text x="1160.7" y="2355" font-size="29.5" text-anchor="middle" font-weight="bold" fill="#231f20">0</text>
<text x="1278.8" y="2355" font-size="29.5" text-anchor="middle" font-weight="bold" fill="#231f20">10</text>
<text x="1396.9" y="2355" font-size="29.5" text-anchor="middle" font-weight="bold" fill="#231f20">20</text>
<text x="1515" y="2355" font-size="29.5" text-anchor="middle" font-weight="bold" fill="#231f20">30</text>
<text x="1633.1" y="2355" font-size="29.5" text-anchor="middle" font-weight="bold" fill="#231f20">40</text>
<text x="1751.2" y="2355" font-size="29.5" text-anchor="middle" font-weight="bold" fill="#231f20">50</text>
<text x="1457.5" y="2400" font-size="29" text-anchor="middle" font-weight="bold" fill="#231f20">Age (in years)</text>
<text x="1023.6" y="2092" font-size="29" text-anchor="middle" font-weight="bold" fill="#231f20" transform="rotate(-90 1023.6 2092)">Patients without</text>
<text x="1055" y="2092" font-size="29" text-anchor="middle" font-weight="bold" fill="#231f20" transform="rotate(-90 1055 2092)">ulcers (%)</text>
<text x="994.5" y="1883.6" font-size="41" text-anchor="start" font-weight="bold" fill="#231f20">g</text>
<path d="M1171.21 2103.79L1178.65 2103.79L1178.65 2132.42L1185.15 2132.42L1185.15 2164.83L1190.82 2164.83L1190.82 2196.41L1207.47 2196.41L1207.47 2249.88L1289.9 2249.88L1289.9 2300.39L1391 2300.39" fill="none" stroke="#a2a3a6" stroke-width="4.2" stroke-dasharray="8.5 10.2" stroke-linejoin="miter" stroke-linecap="round" stroke-linejoin="round"/>
<path d="M1174.87 1883.18L1174.87 1898.34L1178.3 1898.34L1178.3 1925.28L1190.11 1925.28L1190.11 1954.75L1208.18 1954.75L1208.18 2021.27L1289.9 2021.27L1289.9 2120.21L1391 2120.21L1391 2300.39" fill="none" stroke="#a2a3a6" stroke-width="4.2" stroke-dasharray="8.5 10.2" stroke-linejoin="miter" stroke-linecap="round" stroke-linejoin="round"/>
<path d="M1177.23 1897.92L1190.23 1897.92L1191.41 1903.39L1209.12 1903.39L1209.12 1909.71L1218.57 1909.71L1220.34 1917.29L1220.34 1929.49L1225.65 1931.18L1225.65 1943.81L1228.61 1946.76L1228.61 1953.07L1238.65 1953.07L1243.37 1955.17L1243.37 1963.17L1354.97 1963.17L1354.97 1980.01L1367.38 1980.01L1367.38 2002.33" fill="none" stroke="#231f20" stroke-width="5" stroke-dasharray="9.5 10.5" stroke-linejoin="miter" stroke-linecap="round" stroke-linejoin="round"/>
<path d="M1171.09 1943.81L1171.09 1965.28L1178.41 1965.28L1191.05 1975.38L1191.05 1990.12L1216.44 1990.12L1216.44 2015.38L1219.63 2017.48L1219.63 2033.06L1219.75 2045.69L1226.84 2045.69L1226.84 2060.43L1227.43 2073.9L1239.83 2073.9L1242.43 2089.89L1356.16 2089.89L1356.16 2148.84L1367.38 2148.84L1367.38 2190.09" fill="none" stroke="#231f20" stroke-width="5" stroke-dasharray="9.5 10.5" stroke-linejoin="miter" stroke-linecap="round" stroke-linejoin="round"/>
<path d="M1160.7 1883.18L1171.09 1883.18L1171.09 1906.76L1176.05 1906.76L1176.05 1925.28L1178.3 1925.28L1178.3 1962.75L1184.2 1962.75L1184.2 2007.8L1190.58 2007.8L1190.58 2048.64L1207.7 2048.64L1207.7 2134.52L1289.9 2134.52L1289.9 2246.93L1391 2246.93L1391 2302.5" fill="none" stroke="#a2a3a6" stroke-width="6" stroke-linejoin="miter"/>
<path d="M1160.7 1881.5L1167.43 1881.5L1167.43 1919.81L1190.23 1919.81L1190.23 1929.91L1208.18 1929.91L1208.18 1942.12L1219.63 1942.12L1219.63 1976.22L1225.65 1976.22L1225.65 1990.12L1230.38 1990.12L1230.38 2001.91L1243.37 2001.91L1243.37 2015.8L1354.97 2015.8L1354.97 2051.16L1367.38 2051.16L1367.38 2087.37L1692.74 2087.37" fill="none" stroke="#231f20" stroke-width="6" stroke-linejoin="miter"/>
<rect x="1160.3" y="1873" width="6" height="8.5" fill="#231f20"/>
<rect x="1171.87" y="1911.31" width="6" height="8.5" fill="#231f20"/>
<rect x="1193.13" y="1921.41" width="6" height="8.5" fill="#231f20"/>
<rect x="1252.18" y="2007.3" width="6" height="8.5" fill="#231f20"/>
<rect x="1275.8" y="2007.3" width="6" height="8.5" fill="#231f20"/>
<rect x="1287.26" y="2007.3" width="6" height="8.5" fill="#231f20"/>
<rect x="1310.64" y="2007.3" width="6" height="8.5" fill="#231f20"/>
<rect x="1334.38" y="2007.3" width="6" height="8.5" fill="#231f20"/>
<rect x="1346.66" y="2007.3" width="6" height="8.5" fill="#231f20"/>
<rect x="1429.33" y="2078.87" width="6" height="8.5" fill="#231f20"/>
<rect x="1452.95" y="2078.87" width="6" height="8.5" fill="#231f20"/>
<rect x="1464.76" y="2078.87" width="6" height="8.5" fill="#231f20"/>
<rect x="1500.19" y="2078.87" width="6" height="8.5" fill="#231f20"/>
<rect x="1630.1" y="2078.87" width="6" height="8.5" fill="#231f20"/>
<rect x="1689.74" y="2078.87" width="6" height="8.5" fill="#231f20"/>
<rect x="1175.3" y="1954.75" width="6" height="8" fill="#231f20"/>
<rect x="1181.2" y="1999.8" width="6" height="8" fill="#231f20"/>
<rect x="1187.58" y="2040.64" width="6" height="8" fill="#231f20"/>
<rect x="1204.7" y="2126.52" width="6" height="8" fill="#231f20"/>
<rect x="1228.21" y="2126.52" width="6" height="8" fill="#231f20"/>
<rect x="1286.9" y="2238.93" width="6" height="8" fill="#231f20"/>
<rect x="1388" y="2291.13" width="6" height="8" fill="#231f20"/>
<line x1="1563.5" y1="1896.6" x2="1607" y2="1896.6" stroke="#231f20" stroke-width="5.8" stroke-linecap="round"/>
<rect x="1583.5" y="1890" width="6" height="6" fill="#231f20"/>
<line x1="1564" y1="1941.2" x2="1606.5" y2="1941.2" stroke="#a2a3a6" stroke-width="6.2" stroke-linecap="round"/>
<rect x="1582.2" y="1933.8" width="5.6" height="7" fill="#231f20"/>
<line x1="1595.1" y1="1863.7" x2="1595.1" y2="1872.5" stroke="#9a9a9c" stroke-width="1"/>
<text x="1622.3" y="1905.1" font-size="29.2" text-anchor="start" font-weight="bold" fill="#231f20">Missense</text>
<text x="1622.3" y="1949.6" font-size="29.2" text-anchor="start" font-weight="bold" fill="#231f20">LoF</text>
</svg>
</body></html>
